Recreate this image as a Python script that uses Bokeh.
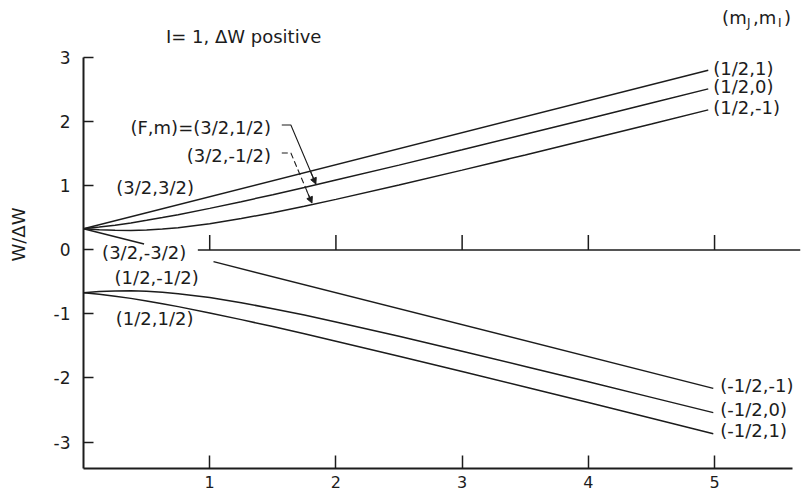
import math
from bokeh.plotting import figure
from bokeh.models import Range1d, FixedTicker, Arrow, NormalHead, LinearAxis
from bokeh.core.properties import value
from bokeh.embed import file_html
from bokeh.resources import INLINE

# ---- data ----
# x : field parameter, W/ΔW : energy (I = 1, J = 1/2)
x_up = [0, 0.125, 0.25, 0.375, 0.5, 0.625, 0.75, 1, 1.25, 1.5, 1.75, 2, 2.5, 3, 3.5, 4, 4.5, 4.95]
w_32_p12 = [0.333, 0.358, 0.388, 0.423, 0.463, 0.506, 0.551, 0.650, 0.755, 0.864, 0.977, 1.092,
            1.326, 1.565, 1.807, 2.051, 2.296, 2.517]
w_32_m12 = [0.333, 0.316, 0.307, 0.305, 0.312, 0.327, 0.349, 0.411, 0.491, 0.583, 0.684, 0.791,
            1.015, 1.248, 1.485, 1.726, 1.969, 2.189]
x_32_p32 = [0, 4.95]
w_32_p32 = [0.333, 2.808]

x_lo = [0, 0.125, 0.25, 0.375, 0.5, 0.625, 0.75, 1, 1.25, 1.5, 1.75, 2, 2.5, 3, 3.5, 4, 4.5, 4.99]
w_12_m12 = [-0.667, -0.649, -0.640, -0.638, -0.645, -0.660, -0.682, -0.744, -0.824, -0.917, -1.017,
            -1.124, -1.348, -1.581, -1.819, -2.060, -2.303, -2.541]
w_12_p12 = [-0.667, -0.691, -0.721, -0.756, -0.796, -0.839, -0.885, -0.983, -1.088, -1.197, -1.310,
            -1.425, -1.660, -1.899, -2.141, -2.384, -2.629, -2.870]
x_32_m32_a = [0, 0.48]
w_32_m32_a = [0.333, 0.093]
x_32_m32_b = [1.03, 4.99]
w_32_m32_b = [-0.182, -2.162]

y_ticks = [-3, -2, -1, 0, 1, 2, 3]
x_ticks = [1, 2, 3, 4, 5]
upper_labels = ["(1/2,1)", "(1/2,0)", "(1/2,-1)"]
lower_labels = ["(-1/2,-1)", "(-1/2,0)", "(-1/2,1)"]

FONT = value("DejaVu Sans")
FS = "18px"
TFS = "17px"
INK = "#1c1c1c"

X0, X1 = 0.0, 5.681
Y0, Y1 = -3.414, 3.898

p = figure(width=802, height=495,
           x_range=Range1d(X0, X1), y_range=Range1d(Y0, Y1),
           output_backend="svg", toolbar_location=None,
           x_axis_type=None, y_axis_type=None,
           min_border_left=83, min_border_right=2, min_border_top=0, min_border_bottom=27)
p.grid.visible = False
p.outline_line_color = None
p.background_fill_color = "white"
p.border_fill_color = "white"

yax = LinearAxis(ticker=FixedTicker(ticks=y_ticks), bounds=(Y0, 3.0),
                 axis_label="W/ΔW", axis_label_standoff=22,
                 axis_label_text_font="DejaVu Sans", axis_label_text_font_size=FS,
                 axis_label_text_font_style="normal", axis_label_text_color=INK,
                 major_tick_in=10, major_tick_out=0, minor_tick_in=0, minor_tick_out=0,
                 minor_tick_line_color=None,
                 axis_line_width=2, axis_line_color=INK, major_tick_line_width=1.5,
                 major_tick_line_color=INK, major_label_standoff=13,
                 major_label_text_font="DejaVu Sans", major_label_text_font_size=TFS,
                 major_label_text_color=INK,
                 major_label_overrides={t: str(t) for t in y_ticks})
p.add_layout(yax, "left")

xax = LinearAxis(ticker=FixedTicker(ticks=x_ticks), bounds=(X0, 5.62),
                 major_tick_in=13, major_tick_out=0, minor_tick_in=0, minor_tick_out=0,
                 minor_tick_line_color=None,
                 axis_line_width=2, axis_line_color=INK, major_tick_line_width=1.5,
                 major_tick_line_color=INK, major_label_standoff=7,
                 major_label_text_font="DejaVu Sans", major_label_text_font_size="16px",
                 major_label_text_color=INK,
                 major_label_overrides={t: str(t) for t in x_ticks})
p.add_layout(xax, "below")

# zero line with upward ticks
p.line(x=[0.906, X1], y=[0, 0], line_color=INK, line_width=1.5)
p.ray(x=x_ticks, y=[0] * len(x_ticks), length=15, length_units="screen",
      angle=math.pi / 2, line_color=INK, line_width=1.5)

# curves
lw = 1.5
p.line(x=x_up, y=w_32_p12, line_color=INK, line_width=lw)
p.line(x=x_up, y=w_32_m12, line_color=INK, line_width=lw)
p.line(x=x_32_p32, y=w_32_p32, line_color=INK, line_width=lw)
p.line(x=x_lo, y=w_12_m12, line_color=INK, line_width=lw)
p.line(x=x_lo, y=w_12_p12, line_color=INK, line_width=lw)
p.line(x=x_32_m32_a, y=w_32_m32_a, line_color=INK, line_width=lw)
p.line(x=x_32_m32_b, y=w_32_m32_b, line_color=INK, line_width=lw)

# right-hand labels at the line ends
up_ends = [w_32_p32[-1], w_32_p12[-1], w_32_m12[-1]]
lo_ends = [w_32_m32_b[-1], w_12_m12[-1], w_12_p12[-1]]
p.text(x=[x_32_p32[-1]] * 3, y=up_ends, text=upper_labels, x_offset=5, y_offset=-2,
       text_font=FONT, text_font_size=FS, text_color=INK,
       text_baseline="middle", text_align="left")
p.text(x=[x_32_m32_b[-1]] * 3, y=lo_ends, text=lower_labels, x_offset=7, y_offset=-3,
       text_font=FONT, text_font_size=FS, text_color=INK,
       text_baseline="middle", text_align="left")

# left-hand labels
def lab(x, y, t, align="center", size=FS):
    p.text(x=[x], y=[y], text=[t], text_font=FONT, text_font_size=size,
           text_color=INK, text_baseline="middle", text_align=align)

lab(1.269, 3.336, "I= 1, ΔW positive")
lab(1.485, 1.914, "(F,m)=(3/2,1/2)", align="right")
lab(1.485, 1.477, "(3/2,-1/2)", align="right")
lab(0.568, 0.977, "(3/2,3/2)")
lab(0.481, -0.04, "(3/2,-3/2)")
lab(0.580, -0.43, "(1/2,-1/2)")
lab(0.564, -1.07, "(1/2,1/2)")

# (m_J, m_I) header with subscripts
hx, hy = 5.06, 3.63
for t, dx, dy, sz in [("(m", 0, 0, FS), ("J", 25, 5, "12px"), (",m", 31, 0, FS),
                      ("I", 56, 5, "12px"), (")", 62, 0, FS)]:
    p.text(x=[hx], y=[hy], text=[t], x_offset=dx, y_offset=dy, text_font=FONT,
           text_font_size=sz, text_color=INK, text_baseline="middle", text_align="left")

# leader lines with arrows
p.line(x=[1.571, 1.643, 1.841], y=[1.953, 1.953, 1.031], line_color=INK, line_width=1.1)
p.add_layout(Arrow(x_start=1.80, y_start=1.22, x_end=1.841, y_end=1.031,
                   line_color=INK, line_width=1.1,
                   end=NormalHead(size=6, fill_color=INK, line_color=INK)))
p.line(x=[1.571, 1.643, 1.810], y=[1.516, 1.516, 0.734], line_color=INK, line_width=1.1,
       line_dash="6 3")
p.add_layout(Arrow(x_start=1.77, y_start=0.92, x_end=1.810, y_end=0.734,
                   line_color=INK, line_width=1.1,
                   end=NormalHead(size=6, fill_color=INK, line_color=INK)))

open("out.html", "w").write(file_html(p, INLINE))
